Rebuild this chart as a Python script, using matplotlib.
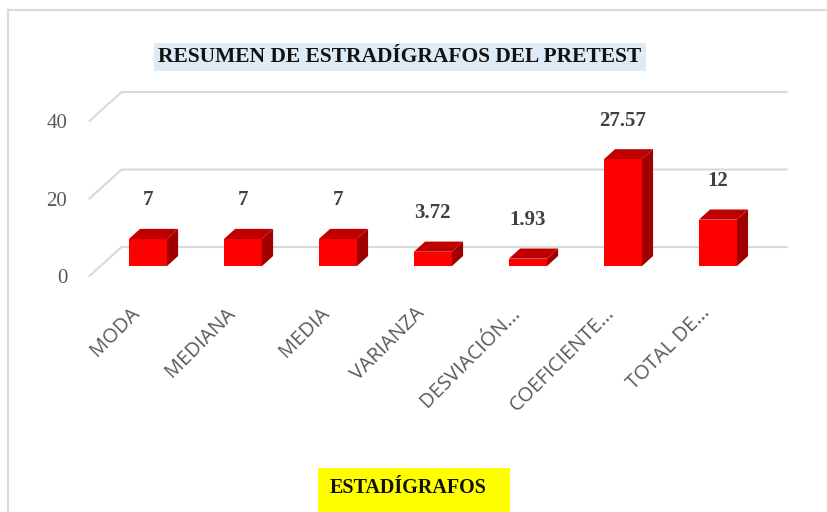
import matplotlib
matplotlib.use("Agg")
from matplotlib import pyplot as plt
from matplotlib.patches import Rectangle
from matplotlib.lines import Line2D

# data
categorias = ['MODA', 'MEDIANA', 'MEDIA', 'VARIANZA', 'DESVIACIÓN...', 'COEFICIENTE...', 'TOTAL DE...']
valores = [7, 7, 7, 3.72, 1.93, 27.57, 12]
etiquetas = ['7', '7', '7', '3.72', '1.93', '27.57', '12']
yticks = [0, 20, 40]

titulo = 'RESUMEN DE ESTRADÍGRAFOS DEL PRETEST'
xtitulo = 'ESTADÍGRAFOS'

# fake 3d look: depth of the floor in data units
DX = 0.337
DY = 7.48
z0, z1 = 0.34, 0.69
w = 0.40

front = '#FF0000'
top = '#C00000'
side = '#A00000'
grid = '#D9D9D9'

fig = plt.figure(figsize=(8.28, 5.12), dpi=100)
ax = fig.add_axes([0.1081, 0.4458, 0.8031, 0.3784])
ax.set_xlim(-0.5, 6.5)
ax.set_ylim(-2, 48)
for s in ax.spines.values():
    s.set_visible(False)

# back wall gridlines + side wall diagonals
for v in yticks:
    ax.plot([-0.5, -0.5 + DX, 6.5 + DX], [v, v + DY, v + DY], color=grid, lw=1.5,
            zorder=1, clip_on=False)

for i, v in enumerate(valores):
    xl = i - w / 2 + z0 * DX
    xr = i + w / 2 + z0 * DX
    yb = z0 * DY
    dx = (z1 - z0) * DX
    dy = (z1 - z0) * DY
    # side face
    ax.fill([xr, xr + dx, xr + dx, xr], [yb, yb + dy, yb + v + dy, yb + v],
            color=side, lw=0, zorder=2, clip_on=False)
    # top face
    ax.fill([xl, xr, xr + dx, xl + dx], [yb + v, yb + v, yb + v + dy, yb + v + dy],
            color=top, lw=0, zorder=2, clip_on=False)
    # front face
    ax.fill([xl, xr, xr, xl], [yb, yb, yb + v, yb + v],
            color=front, lw=0, zorder=3, clip_on=False)
    ax.text(i + z0 * DX, yb + v + 10, etiquetas[i], ha='center', va='center',
            fontsize=15, fontweight='bold', family='Liberation Serif', color='#404040')

ax.set_yticks(yticks)
ax.set_yticklabels([str(t) for t in yticks], family='Liberation Serif', fontsize=15,
                   color='#595959', va='top')
ax.tick_params(axis='y', length=0, pad=16)
for t in ax.get_yticklabels():
    t.set_y(t.get_position()[1])
    t.set_verticalalignment('center_baseline')

ax.set_xticks(range(len(categorias)))
ax.set_xticklabels(categorias, rotation=45, ha='right', va='center', rotation_mode='anchor',
                   family='Open Sans', fontsize=14.5, color='#595959')
ax.tick_params(axis='x', length=0, pad=19)

# title with light blue box
fig.text(0.483, 1 - 57 / 512, titulo, ha='center', va='center', fontsize=15.5,
         fontweight='bold', family='Liberation Serif', color='#111111',
         bbox=dict(facecolor='#DDEBF7', edgecolor='none', pad=3))

# axis title with yellow box
fig.add_artist(Rectangle((318 / 828, 0), 192 / 828, 44 / 512, transform=fig.transFigure,
                         facecolor='#FFFF00', edgecolor='none'))
fig.text(330 / 828, 1 - 488 / 512, xtitulo, ha='left', va='center', fontsize=14.5,
         fontweight='bold', family='Liberation Serif', color='#111111')

# chart border
fig.add_artist(Line2D([8 / 828, 8 / 828], [0, 1 - 10 / 512], color=grid, lw=1.5,
                      transform=fig.transFigure))
fig.add_artist(Line2D([8 / 828, 1], [1 - 10 / 512, 1 - 10 / 512], color=grid, lw=1.5,
                      transform=fig.transFigure))

fig.savefig('out.png', dpi=100)
